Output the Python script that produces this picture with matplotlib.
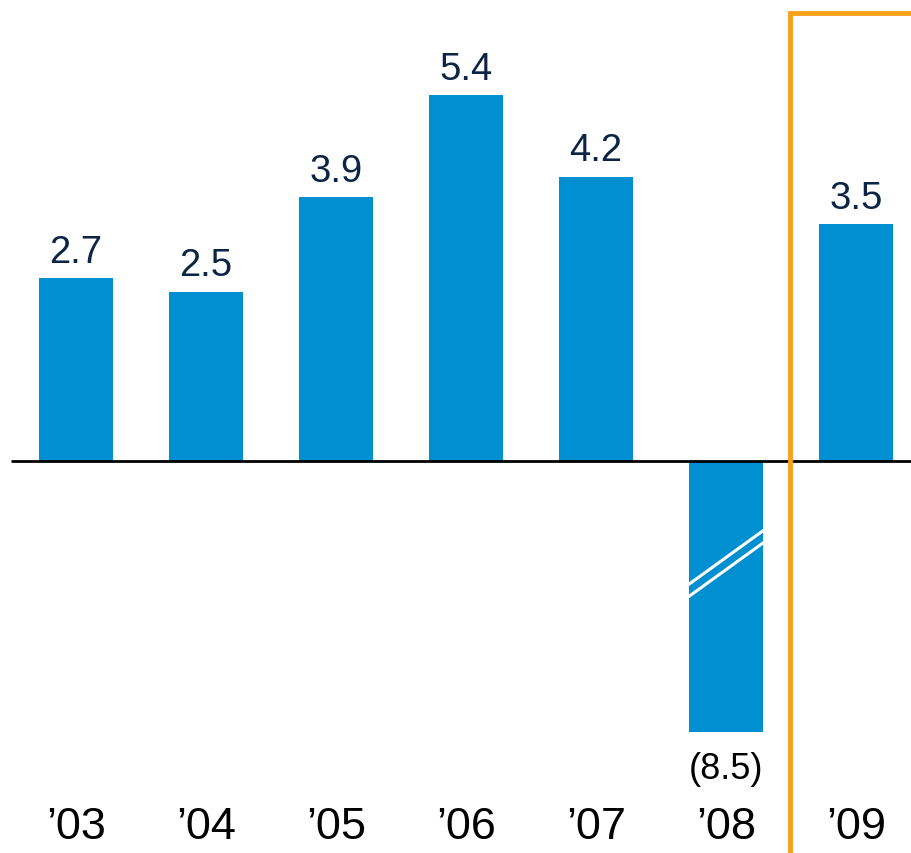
import matplotlib.pyplot as plt

# data
years = ["\u201903", "\u201904", "\u201905", "\u201906", "\u201907", "\u201908", "\u201909"]
values = [2.7, 2.5, 3.9, 5.4, 4.2, -8.5, 3.5]
value_labels = ["2.7", "2.5", "3.9", "5.4", "4.2", "(8.5)", "3.5"]
# the '08 bar is drawn with an axis break, truncated at this level
break_floor = -4.0

plt.rcParams['font.family'] = ['Liberation Sans', 'DejaVu Sans']

bar_color = "#008FD0"
label_color = "#0D2545"
orange = "#F9A11B"

fig = plt.figure(figsize=(9.11, 8.54), dpi=100)
ax = fig.add_axes([0, 0, 1, 1])

x = list(range(len(years)))
shown = [max(v, break_floor) for v in values]
ax.bar(x, shown, width=0.57, color=bar_color, zorder=2)

# baseline
ax.plot([-0.5, 7], [0, 0], color="black", lw=2, zorder=3, solid_capstyle="butt")

# value labels
for xi, v, s, lab in zip(x, values, shown, value_labels):
    if v >= 0:
        ax.annotate(lab, (xi, s), xytext=(0, 6), textcoords="offset points",
                    ha="center", va="bottom", fontsize=27.5, color=label_color)
    else:
        ax.annotate(lab, (xi, s), xytext=(0, -26.5), textcoords="offset points",
                    ha="center", va="center", fontsize=26, color="black")

# year labels
for xi, yr in zip(x, years):
    ax.text(xi, -5.40, yr, ha="center", va="center", fontsize=32.5, color="black")

# break marks on the truncated bar
i08 = values.index(min(values))
xl, xr = i08 - 0.285, i08 + 0.285
for dy in (0, -0.18):
    ax.plot([xl, xr], [-1.82 + dy, -1.03 + dy], color="white", lw=2.2, zorder=4)

# orange bracket around the forecast year
ax.plot([5.49, 5.49, 7], [-6, 6.62, 6.62], color=orange, lw=3.5, zorder=5,
        solid_joinstyle="miter")

ax.set_xlim(-76 / 130, 835 / 130)
ax.set_ylim(-392 / 67.7, 462 / 67.7)
ax.axis("off")

fig.savefig("out.png", dpi=100)
